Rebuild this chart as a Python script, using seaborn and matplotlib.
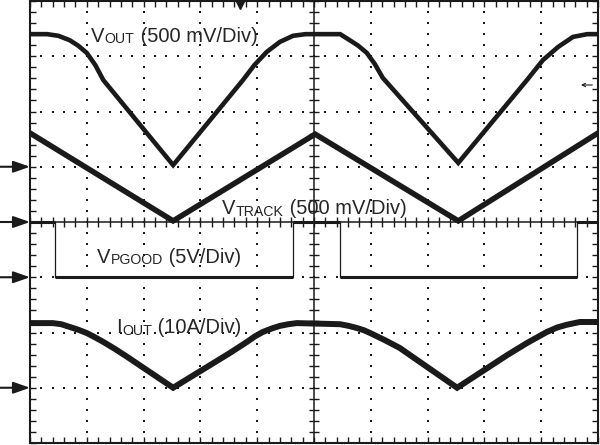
import numpy as np
import pandas as pd
import matplotlib
matplotlib.use("Agg")
import matplotlib.pyplot as plt
import seaborn as sns
from matplotlib.ticker import MultipleLocator

# ---- data (time in divisions, level in divisions) ----
vout_t = [0.00, 0.30, 0.50, 0.70, 0.85, 1.00, 1.15, 1.29, 2.52, 3.75, 3.95, 4.17, 4.40,
          4.63, 4.85, 5.46, 5.63, 5.78, 5.93, 6.07, 6.21, 7.54, 8.75, 9.03, 9.30, 9.56,
          9.81, 10.00]
vout_v = [7.40, 7.40, 7.37, 7.29, 7.19, 7.06, 6.84, 6.57, 5.03, 6.57, 6.84, 7.08, 7.26,
          7.37, 7.40, 7.40, 7.29, 7.19, 7.06, 6.86, 6.61, 5.07, 6.57, 6.93, 7.17, 7.35,
          7.40, 7.40]

vtrack_t = [0.00, 2.52, 5.02, 7.54, 10.00]
vtrack_v = [5.61, 4.02, 5.59, 4.02, 5.61]

pgood_t = [0.00, 0.44, 0.44, 4.63, 4.63, 5.46, 5.46, 9.63, 9.63, 10.00]
pgood_v = [4.00, 4.00, 3.01, 3.01, 4.00, 4.00, 3.01, 3.01, 4.00, 4.00]

iout_t = [0.00, 0.40, 0.55, 0.70, 0.85, 1.00, 1.15, 1.29, 1.50, 1.71, 2.52, 3.52, 3.67,
          3.82, 3.96, 4.10, 4.25, 4.40, 4.55, 4.70, 5.46, 5.61, 5.76, 5.88, 5.99, 6.25,
          6.51, 7.52, 8.40, 8.75, 9.10, 9.28, 9.45, 9.68, 10.00]
iout_v = [2.17, 2.17, 2.15, 2.10, 2.05, 1.99, 1.91, 1.83, 1.70, 1.56, 1.00, 1.63, 1.73,
          1.83, 1.93, 2.01, 2.07, 2.12, 2.15, 2.17, 2.15, 2.12, 2.08, 2.04, 1.99, 1.86,
          1.72, 1.00, 1.59, 1.81, 2.01, 2.09, 2.14, 2.19, 2.19]

ref_levels = [5.0, 4.0, 3.0, 1.0]

labels = [
    # (x, baseline y, main, subscript, rest)
    (1.07, 7.26, 'V', 'OUT', ' (500 mV/Div)'),
    (3.38, 4.14, 'V', 'TRACK', ' (500 mV/Div)'),
    (1.18, 3.26, 'V', 'PGOOD', ' (5V/Div)'),
    (1.51, 1.99, 'I', 'OUT', ' (10A/Div)'),
]

sns.set_theme(style="white")
plt.rcParams['font.family'] = ['Liberation Sans', 'DejaVu Sans']

fig = plt.figure(figsize=(6, 4.45), dpi=100)
ax = fig.add_axes([30/600, 2/445, 568/600, 442/445])
ax.set_xlim(0, 10)
ax.set_ylim(0, 8)

# graticule: dotted grid, solid centre lines with ticks
xs_minor = np.arange(0, 10.001, 0.2)
ys_minor = np.arange(0, 8.001, 0.2)
for gx in range(1, 10):
    if gx != 5:
        ax.scatter(np.full(len(ys_minor), gx), ys_minor, s=1.6, marker='s', c='k', lw=0, zorder=1)
for gy in range(1, 8):
    if gy != 4:
        ax.scatter(xs_minor, np.full(len(xs_minor), gy), s=1.6, marker='s', c='k', lw=0, zorder=1)
ax.axvline(5, color='k', lw=1.1, zorder=1)
ax.axhline(4, color='k', lw=1.1, zorder=1)
ax.plot(xs_minor, np.full(len(xs_minor), 4.0), ls='none', marker='|', ms=7, mew=1.0, color='k', zorder=1)
ax.plot(np.full(len(ys_minor), 5.0), ys_minor, ls='none', marker='_', ms=7, mew=1.0, color='k', zorder=1)

ax.xaxis.set_major_locator(MultipleLocator(1))
ax.yaxis.set_major_locator(MultipleLocator(1))
ax.xaxis.set_minor_locator(MultipleLocator(0.2))
ax.yaxis.set_minor_locator(MultipleLocator(0.2))
ax.tick_params(which='both', direction='in', length=4, width=1, color='k',
               top=True, right=True, bottom=True, left=True,
               labelbottom=False, labelleft=False)
for s in ax.spines.values():
    s.set_color('k')
    s.set_linewidth(1.5)

# traces
df_vout = pd.DataFrame({'t': vout_t, 'v': vout_v})
df_vtrack = pd.DataFrame({'t': vtrack_t, 'v': vtrack_v})
df_pgood = pd.DataFrame({'t': pgood_t, 'v': pgood_v})
df_iout = pd.DataFrame({'t': iout_t, 'v': iout_v})

kw = dict(x='t', y='v', ax=ax, estimator=None, sort=False, color='k', legend=False)
sns.lineplot(data=df_vout, lw=3.3, solid_joinstyle='miter', zorder=3, **kw)
sns.lineplot(data=df_vtrack, lw=4.0, solid_joinstyle='miter', zorder=3, **kw)
sns.lineplot(data=df_iout, lw=4.3, solid_joinstyle='miter', zorder=3, **kw)
sns.lineplot(data=df_pgood, lw=0.9, zorder=3, **kw)
for i in range(len(pgood_t) - 1):
    if pgood_v[i] == pgood_v[i + 1]:
        ax.plot(pgood_t[i:i + 2], pgood_v[i:i + 2], color='k', lw=2.2,
                solid_capstyle='butt', zorder=3)

# labels with small subscripts sitting close to the baseline
fs = 14.5
fig.canvas.draw()
renderer = fig.canvas.get_renderer()
inv = ax.transData.inverted()
for (lx, ly, main, sub, rest) in labels:
    t1 = ax.text(lx, ly, main, fontsize=fs, va='baseline', ha='left')
    bb = t1.get_window_extent(renderer)
    x_disp, y_disp = ax.transData.transform((lx, ly))
    sx = inv.transform((bb.x1 + 0.5, y_disp - 1.5))
    t2 = ax.text(sx[0], sx[1], sub, fontsize=fs * 0.7, va='baseline', ha='left')
    bb2 = t2.get_window_extent(renderer)
    rx = inv.transform((bb2.x1, y_disp))
    ax.text(rx[0], ly, rest, fontsize=fs, va='baseline', ha='left')

# channel reference arrows on the left
for lv in ref_levels:
    ax.annotate('', xy=(0, lv), xytext=(-0.53, lv), annotation_clip=False,
                arrowprops=dict(arrowstyle='-|>,head_length=1.0,head_width=0.35',
                                mutation_scale=10, lw=1.5, color='k',
                                shrinkA=0, shrinkB=0))

# trigger marker and small arrow
ax.plot([3.70], [7.93], marker='v', ms=6, color='k', clip_on=False, zorder=4)
ax.annotate('', xy=(9.70, 6.48), xytext=(9.90, 6.48), annotation_clip=False,
            arrowprops=dict(arrowstyle='->', lw=0.8, mutation_scale=6, color='k',
                            shrinkA=0, shrinkB=0))

fig.savefig('out.png', dpi=100, facecolor='white')
